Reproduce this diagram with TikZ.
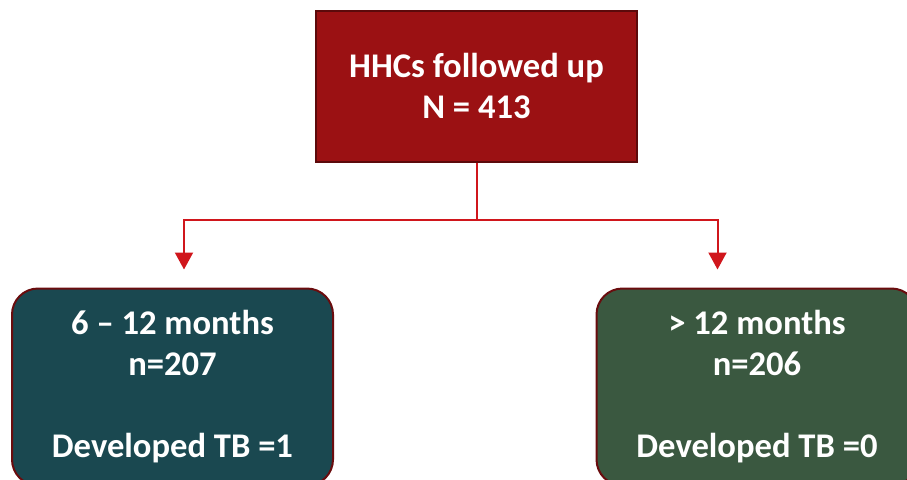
\documentclass[tikz,border=0pt]{standalone}
\usepackage{fontspec}
\setmainfont{Carlito}
\usetikzlibrary{arrows.meta, positioning, calc}
\definecolor{rootred}{HTML}{9B1113}
\definecolor{rootedge}{HTML}{5C0A0B}
\definecolor{boxedge}{HTML}{6A0C0E}
\definecolor{shortteal}{HTML}{1A4850}
\definecolor{longgreen}{HTML}{3A5840}
\definecolor{linkred}{HTML}{D0161C}
\tikzset{
  rootbox/.style={
    rectangle, minimum width=321pt, minimum height=151pt,
    align=center, font=\fontsize{34.6}{41}\selectfont\bfseries,
    draw=rootedge, line width=2pt, fill=rootred, text=white
  },
  groupbox/.style={
    rectangle, rounded corners=26pt,
    minimum width=321pt, minimum height=197pt,
    align=center, font=\fontsize{34.6}{41}\selectfont\bfseries,
    draw=boxedge, line width=2pt, fill=#1, text=white
  },
  splitarrow/.style={-{Triangle[width=18pt,length=17pt]}, line width=2pt, color=linkred},
}
\begin{document}
\begin{tikzpicture}[x=1pt, y=-1pt]
    \useasboundingbox (0,0) rectangle (907,479);

    \node[rootbox] (root) at (476.5, 86){HHCs followed up\\N = 413};

    \node[groupbox=shortteal] (short) at (172.5, 387){6 -- 12 months\\n=207\\[41pt]Developed TB =1};
    \node[groupbox=longgreen] (long)  at (757, 387){> 12 months\\n=206\\[41pt]Developed TB =0};

    \coordinate (split) at ($(root.south)+(0,-57pt)$);

    \draw[line width=2pt, linkred] (root.south) -- (split);
    \draw[splitarrow] (split) -| ([xshift=11.5pt, yshift=18pt]short.north);
    \draw[splitarrow] (split) -| ([xshift=-39.5pt, yshift=18pt]long.north);
  \end{tikzpicture}
\end{document}
